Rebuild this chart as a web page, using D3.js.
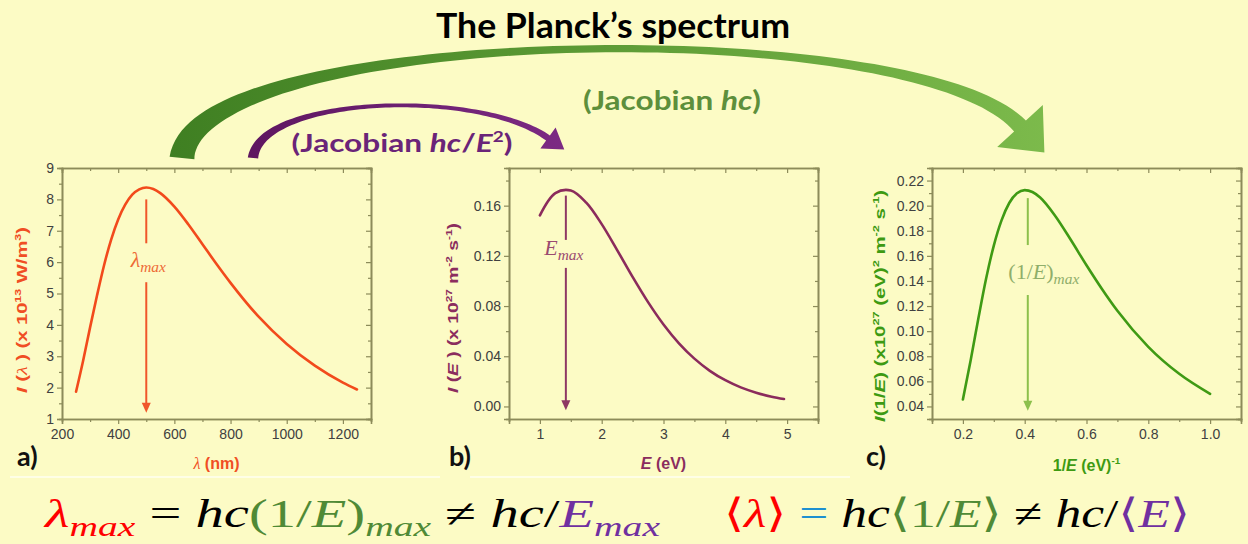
<!DOCTYPE html>
<html>
<head>
<meta charset="utf-8">
<script src="https://cdn.jsdelivr.net/npm/d3@7"></script>
<style>
  body { margin: 0; background: #fcfbc5; }
  svg { display: block; }
</style>
</head>
<body>
<script>
// ---- data ----
// a) spectrum per wavelength
var lambdaNm = [250, 275, 300, 325, 350, 375, 400, 425, 450, 475, 500, 525, 550, 600, 650, 700, 750, 800, 900, 1000, 1100, 1200, 1250];
var intensityLambda = [1.87, 2.85, 3.92, 4.95, 5.91, 6.72, 7.36, 7.83, 8.15, 8.32, 8.38, 8.33, 8.20, 7.77, 7.20, 6.57, 5.94, 5.34, 4.26, 3.39, 2.70, 2.16, 1.94];
var lambdaTicks = [200, 400, 600, 800, 1000, 1200];
var lambdaYTicks = [1, 2, 3, 4, 5, 6, 7, 8, 9];

// b) spectrum per energy
var energyEv = [1.0, 1.25, 1.5, 1.75, 2.0, 2.25, 2.5, 2.75, 3.0, 3.25, 3.5, 3.75, 4.0, 4.25, 4.5, 4.75, 4.95];
var intensityE = [0.1523, 0.1700, 0.1721, 0.1624, 0.1453, 0.1246, 0.1032, 0.0831, 0.0653, 0.0503, 0.0381, 0.0284, 0.0209, 0.0152, 0.0110, 0.0078, 0.0059];
var energyTicks = [1, 2, 3, 4, 5];
var energyYTicks = [0, 0.04, 0.08, 0.12, 0.16];

// c) spectrum per 1/E
var invEnergy = [0.20, 0.225, 0.25, 0.275, 0.30, 0.325, 0.35, 0.375, 0.40, 0.425, 0.45, 0.50, 0.55, 0.60, 0.65, 0.70, 0.80, 0.90, 1.00];
var intensityInvE = [0.0455, 0.0767, 0.110, 0.1417, 0.1682, 0.1883, 0.2021, 0.2098, 0.2124, 0.2109, 0.2065, 0.1914, 0.1724, 0.1525, 0.1336, 0.1162, 0.0875, 0.066, 0.050];
var invTicks = [0.2, 0.4, 0.6, 0.8, 1.0];
var invYTicks = [0.04, 0.06, 0.08, 0.10, 0.12, 0.14, 0.16, 0.18, 0.20, 0.22];

// peaks marked with the vertical arrows
var peakX = [500, 1.42, 0.41];

var W = 1248, H = 544;
var bg = "#fcfbc5";
var axisColor = "#8c8b5a";

var svg = d3.select("body").append("svg")
    .attr("width", W)
    .attr("height", H);
svg.append("rect").attr("width", W).attr("height", H).attr("fill", bg);

var defs = svg.append("defs");

//rich text helper: segments with italic / sup / sub
function rich(sel, segs, size) {
    var shift = 0;
    segs.forEach(function (s) {
        var target = s.sup ? -0.42 * size : (s.sub ? 0.22 * size : 0);
        var ts = sel.append("tspan").text(s.t).attr("dy", target - shift);
        shift = target;
        if (s.sup || s.sub) ts.attr("font-size", size * (s.k || 0.62));
        if (s.i) ts.attr("font-style", "italic");
        if (s.f) ts.attr("font-family", s.f);
        if (s.w) ts.attr("font-weight", s.w);
        if (s.c) ts.attr("fill", s.c);
    });
    return sel;
}

// faint light lines above formula
[[10, 440], [470, 850]].forEach(function (p) {
    svg.append("line")
        .attr("x1", p[0]).attr("x2", p[1])
        .attr("y1", 477).attr("y2", 477)
        .attr("stroke", "#fefee6").attr("stroke-width", 2);
});

// ---- panels ----
var serif = "'Liberation Serif', 'DejaVu Serif', serif";
var sans = "'Liberation Sans', Arial, sans-serif";
var bold = "Lato, 'Open Sans', sans-serif";

var panels = [
    {
        label: "a)", labelX: 17,
        x0: 62, x1: 371, y0: 168, y1: 419,
        xDomain: [200, 1300], yDomain: [1, 9],
        xs: lambdaNm, ys: intensityLambda, curve: d3.curveMonotoneX,
        xTicks: lambdaTicks, xMinor: d3.range(300, 1301, 200), xFmt: d3.format("d"),
        yTicks: lambdaYTicks, yMinor: d3.range(1.5, 9, 1), yFmt: d3.format("d"),
        color: "#f24a1c", arrowColor: "#f0562a", textColor: "#ee6a36",
        peak: peakX[0], arrowTop: 8.0, gapTop: 6.6, gapBot: 5.36, tip: 1.2,
        peakLabel: [{ t: "λ", i: true }, { t: "max", i: true, sub: true, k: 0.7 }], peakLabelY: 5.84, peakLabelDx: 2, peakSize: 22,
        titleColor: "#f04e23",
        yTitle: [{ t: "I", i: true }, { t: " (" }, { t: "λ", i: true, f: serif, w: "normal" }, { t: " ) (x 10" }, { t: "13", sup: true }, { t: " W/m" }, { t: "3", sup: true }, { t: ")" }],
        yTitleX: 27, yTitleY: 310, yTitleLen: 166,
        xTitle: [{ t: "λ", i: true, f: serif, w: "normal" }, { t: " (nm)" }], xTitleY: 469
    },
    {
        label: "b)", labelX: 449,
        x0: 509, x1: 818, y0: 168, y1: 419,
        xDomain: [0.5, 5.5], yDomain: [-0.01, 0.19],
        xs: energyEv, ys: intensityE, curve: d3.curveCatmullRom,
        xTicks: energyTicks, xMinor: d3.range(0.5, 5.6, 1), xFmt: d3.format("d"),
        yTicks: energyYTicks, yMinor: [0.02, 0.06, 0.10, 0.14, 0.18], yFmt: d3.format(".2f"),
        color: "#8b2b5c", arrowColor: "#8e3864", textColor: "#9a4a70",
        peak: peakX[1], arrowTop: 0.168, gapTop: 0.1327, gapBot: 0.1104, tip: -0.003,
        peakLabel: [{ t: "E", i: true }, { t: "max", i: true, sub: true, k: 0.7 }], peakLabelY: 0.1207, peakLabelDx: -2, peakSize: 22,
        titleColor: "#8b2d5e",
        yTitle: [{ t: "I", i: true }, { t: " (" }, { t: "E", i: true }, { t: " ) (x 10" }, { t: "27", sup: true }, { t: " m" }, { t: "-2", sup: true }, { t: " s" }, { t: "-1", sup: true }, { t: ")" }],
        yTitleX: 458, yTitleY: 308, yTitleLen: 170,
        xTitle: [{ t: "E", i: true }, { t: " (eV)" }], xTitleY: 469
    },
    {
        label: "c)", labelX: 866,
        x0: 932, x1: 1241, y0: 168, y1: 419,
        xDomain: [0.1, 1.1], yDomain: [0.03, 0.23],
        xs: invEnergy, ys: intensityInvE, curve: d3.curveMonotoneX,
        xTicks: invTicks, xMinor: d3.range(0.1, 1.15, 0.2), xFmt: d3.format(".1f"),
        yTicks: invYTicks, yMinor: d3.range(0.03, 0.235, 0.02), yFmt: d3.format(".2f"),
        color: "#3f9a14", arrowColor: "#8cc04c", textColor: "#8fae6a",
        peak: peakX[2], arrowTop: 0.206, gapTop: 0.1686, gapBot: 0.1288, tip: 0.0366,
        peakLabel: [{ t: "(1/", i: false }, { t: "E", i: true }, { t: ")", i: false }, { t: "max", i: true, sub: true, k: 0.7 }], peakLabelY: 0.1416, peakLabelDx: 16, peakSize: 22,
        titleColor: "#3d9a12",
        yTitle: [{ t: "I", i: true }, { t: "(1/" }, { t: "E", i: true }, { t: ") (x10" }, { t: "27", sup: true }, { t: " (eV)" }, { t: "2", sup: true }, { t: " m" }, { t: "-2", sup: true }, { t: " s" }, { t: "-1", sup: true }, { t: ")" }],
        yTitleX: 885, yTitleY: 306, yTitleLen: 232,
        xTitle: [{ t: "1/" }, { t: "E", i: true }, { t: " (eV)" }, { t: "-1", sup: true }], xTitleY: 471
    }
];

panels.forEach(function (p) {
    var x = d3.scaleLinear().domain(p.xDomain).range([p.x0, p.x1]);
    var y = d3.scaleLinear().domain(p.yDomain).range([p.y1, p.y0]);
    var g = svg.append("g");

    // bottom axis (outward ticks) with labels
    var bottom = g.append("g").attr("transform", "translate(0," + p.y1 + ")");
    bottom.call(d3.axisBottom(x).tickValues(p.xTicks).tickFormat(p.xFmt).tickSize(5).tickPadding(5));
    bottom.append("g").call(d3.axisBottom(x).tickValues(p.xMinor).tickFormat("").tickSize(3));
    // left axis
    var left = g.append("g").attr("transform", "translate(" + p.x0 + ",0)");
    left.call(d3.axisLeft(y).tickValues(p.yTicks).tickFormat(p.yFmt).tickSize(5).tickPadding(3));
    left.append("g").call(d3.axisLeft(y).tickValues(p.yMinor).tickFormat("").tickSize(3));
    // mirror top/right with inward ticks
    var top = g.append("g").attr("transform", "translate(0," + p.y0 + ")");
    top.call(d3.axisTop(x).tickValues(p.xTicks).tickFormat("").tickSize(-5));
    top.append("g").call(d3.axisTop(x).tickValues(p.xMinor).tickFormat("").tickSize(-3));
    var right = g.append("g").attr("transform", "translate(" + p.x1 + ",0)");
    right.call(d3.axisRight(y).tickValues(p.yTicks).tickFormat("").tickSize(-5));
    right.append("g").call(d3.axisRight(y).tickValues(p.yMinor).tickFormat("").tickSize(-3));

    g.selectAll(".domain").attr("stroke", axisColor).attr("stroke-width", 1.6);
    g.selectAll(".tick line").attr("stroke", axisColor).attr("stroke-width", 1.2);
    g.selectAll("g").attr("font-family", sans);
    g.selectAll(".tick text")
        .attr("fill", "#404040")
        .style("font-family", sans)
        .attr("font-size", 14);

    // curve
    var pts = p.xs.map(function (v, i) { return [v, p.ys[i]]; });
    g.append("path")
        .datum(pts)
        .attr("fill", "none")
        .attr("stroke", p.color)
        .attr("stroke-width", 2.6)
        .attr("stroke-linecap", "round")
        .attr("d", d3.line()
            .x(function (d) { return x(d[0]); })
            .y(function (d) { return y(d[1]); })
            .curve(p.curve));

    // vertical peak arrow with a gap for the label
    var ax = x(p.peak);
    g.append("line")
        .attr("x1", ax).attr("x2", ax)
        .attr("y1", y(p.arrowTop)).attr("y2", y(p.gapTop))
        .attr("stroke", p.arrowColor).attr("stroke-width", 2);
    g.append("line")
        .attr("x1", ax).attr("x2", ax)
        .attr("y1", y(p.gapBot)).attr("y2", y(p.tip) - 8)
        .attr("stroke", p.arrowColor).attr("stroke-width", 2);
    var ty = y(p.tip);
    g.append("path")
        .attr("d", "M" + (ax - 4.5) + "," + (ty - 10) + "L" + (ax + 4.5) + "," + (ty - 10) + "L" + ax + "," + ty + "Z")
        .attr("fill", p.arrowColor);

    rich(g.append("text")
        .attr("x", ax + p.peakLabelDx)
        .attr("y", y(p.peakLabelY))
        .attr("text-anchor", "middle")
        .style("font-family", serif)
        .attr("font-size", p.peakSize)
        .attr("fill", p.textColor), p.peakLabel, p.peakSize);

    // axis titles
    rich(g.append("text")
        .attr("transform", "translate(" + p.yTitleX + "," + p.yTitleY + ") rotate(-90)")
        .attr("dy", "0.35em")
        .attr("text-anchor", "middle")
        .style("font-family", sans)
        .attr("font-weight", "bold")
        .attr("font-size", 15)
        .attr("textLength", p.yTitleLen).attr("lengthAdjust", "spacingAndGlyphs")
        .attr("fill", p.titleColor), p.yTitle, 15);

    rich(g.append("text")
        .attr("x", (p.x0 + p.x1) / 2)
        .attr("y", p.xTitleY)
        .attr("text-anchor", "middle")
        .style("font-family", sans)
        .attr("font-weight", "bold")
        .attr("font-size", 16)
        .attr("fill", p.titleColor), p.xTitle, 16);

    // panel letter
    g.append("text")
        .attr("x", p.labelX)
        .attr("y", 466)
        .style("font-family", bold)
        .attr("font-weight", "bold")
        .attr("font-size", 27)
        .attr("fill", "#111")
        .text(p.label);
});

// ---- tapered curved arrows on top ----
function cubicPt(P, t) {
    var u = 1 - t;
    return [
        u * u * u * P[0][0] + 3 * u * u * t * P[1][0] + 3 * u * t * t * P[2][0] + t * t * t * P[3][0],
        u * u * u * P[0][1] + 3 * u * u * t * P[1][1] + 3 * u * t * t * P[2][1] + t * t * t * P[3][1]
    ];
}
function cubicTan(P, t) {
    var u = 1 - t;
    var dx = 3 * u * u * (P[1][0] - P[0][0]) + 6 * u * t * (P[2][0] - P[1][0]) + 3 * t * t * (P[3][0] - P[2][0]);
    var dy = 3 * u * u * (P[1][1] - P[0][1]) + 6 * u * t * (P[2][1] - P[1][1]) + 3 * t * t * (P[3][1] - P[2][1]);
    var l = Math.sqrt(dx * dx + dy * dy);
    return [dx / l, dy / l];
}
function taperedArrow(P, wFn, headHalf, headLen, fill) {
    var n = 90, leftSide = [], rightSide = [];
    for (var i = 0; i <= n; i++) {
        var t = i / n, pt = cubicPt(P, t), tg = cubicTan(P, t), w = wFn(t) / 2;
        leftSide.push([pt[0] - tg[1] * w, pt[1] + tg[0] * w]);
        rightSide.push([pt[0] + tg[1] * w, pt[1] - tg[0] * w]);
    }
    var end = P[3], te = cubicTan(P, 1);
    var headA = [end[0] - te[1] * headHalf, end[1] + te[0] * headHalf];
    var headB = [end[0] + te[1] * headHalf, end[1] - te[0] * headHalf];
    var tip = [end[0] + te[0] * headLen, end[1] + te[1] * headLen];
    var pts = leftSide.concat([headA, tip, headB]).concat(rightSide.reverse());
    svg.append("path")
        .attr("d", "M" + pts.map(function (q) { return q[0].toFixed(1) + "," + q[1].toFixed(1); }).join("L") + "Z")
        .attr("fill", fill);
}

var gGreen = defs.append("linearGradient").attr("id", "gGreen")
    .attr("gradientUnits", "userSpaceOnUse").attr("x1", 170).attr("x2", 1060).attr("y1", 0).attr("y2", 0);
gGreen.append("stop").attr("offset", 0).attr("stop-color", "#3f7f22");
gGreen.append("stop").attr("offset", 0.5).attr("stop-color", "#5e9c36");
gGreen.append("stop").attr("offset", 1).attr("stop-color", "#7dbb4c");

var gPurple = defs.append("linearGradient").attr("id", "gPurple")
    .attr("gradientUnits", "userSpaceOnUse").attr("x1", 245).attr("x2", 570).attr("y1", 0).attr("y2", 0);
gPurple.append("stop").attr("offset", 0).attr("stop-color", "#5e1660");
gPurple.append("stop").attr("offset", 1).attr("stop-color", "#7c2a84");

taperedArrow([[182, 158], [195, 25], [915, 12], [1020, 126]],
    function (t) { return 3 + 22 * Math.pow(1 - t, 3) + 13 * Math.pow(t, 3); },
    31, 36, "url(#gGreen)");

taperedArrow([[253, 158], [260, 96], [478, 88], [548, 138]],
    function (t) { return 2.5 + 8 * Math.pow(1 - t, 3) + 4 * Math.pow(t, 3); },
    13, 20, "url(#gPurple)");

// ---- titles ----
svg.append("text")
    .attr("x", 613).attr("y", 38)
    .attr("text-anchor", "middle")
    .style("font-family", bold)
    .attr("font-weight", "bold")
    .attr("font-size", 34)
    .attr("textLength", 354).attr("lengthAdjust", "spacingAndGlyphs")
    .attr("fill", "#000")
    .text("The Planck’s spectrum");

rich(svg.append("text")
    .attr("x", 672).attr("y", 110)
    .attr("text-anchor", "middle")
    .style("font-family", bold)
    .attr("font-weight", "bold")
    .attr("font-size", 27)
    .attr("textLength", 178).attr("lengthAdjust", "spacingAndGlyphs")
    .attr("fill", "#5d8f3c"), [{ t: "(Jacobian " }, { t: "hc", i: true }, { t: ")" }], 27);

rich(svg.append("text")
    .attr("x", 402).attr("y", 152)
    .attr("text-anchor", "middle")
    .style("font-family", bold)
    .attr("font-weight", "bold")
    .attr("font-size", 25)
    .attr("textLength", 221).attr("lengthAdjust", "spacingAndGlyphs")
    .attr("fill", "#6a2478"), [{ t: "(Jacobian " }, { t: "hc", i: true }, { t: "/" }, { t: "E", i: true }, { t: "2", sup: true, k: 0.6 }, { t: ")" }], 25);

// ---- formula line ----
var red = "#ff0000", grn = "#4f8a36", pur = "#7030a0", blk = "#000", blu = "#1e90d0";
var formula1 = [
    { t: "λ", i: true, c: red }, { t: "max", i: true, sub: true, k: 0.7, c: red },
    { t: " = ", c: blk }, { t: "hc", i: true, c: blk },
    { t: "(1/", c: grn }, { t: "E", i: true, c: grn }, { t: ")", c: grn }, { t: "max", i: true, sub: true, k: 0.7, c: grn },
    { t: " ≠ ", c: blk }, { t: "hc", i: true, c: blk }, { t: "/", c: blk },
    { t: "E", i: true, c: pur }, { t: "max", i: true, sub: true, k: 0.7, c: pur }
];
var formula2 = [
    { t: "⟨", c: red }, { t: "λ", i: true, c: red }, { t: "⟩", c: red },
    { t: " = ", c: blu }, { t: "hc", i: true, c: blk },
    { t: "⟨1/", c: grn }, { t: "E", i: true, c: grn }, { t: "⟩", c: grn },
    { t: " ≠ ", c: blk }, { t: "hc", i: true, c: blk }, { t: "/", c: blk },
    { t: "⟨", c: pur }, { t: "E", i: true, c: pur }, { t: "⟩", c: pur }
];
rich(svg.append("text")
    .attr("x", 45).attr("y", 527)
    .style("font-family", serif)
    .attr("font-size", 40)
    .attr("textLength", 615).attr("lengthAdjust", "spacingAndGlyphs"), formula1, 40);
rich(svg.append("text")
    .attr("x", 724).attr("y", 527)
    .style("font-family", serif)
    .attr("font-size", 40)
    .attr("textLength", 466).attr("lengthAdjust", "spacingAndGlyphs"), formula2, 40);
</script>
</body>
</html>
